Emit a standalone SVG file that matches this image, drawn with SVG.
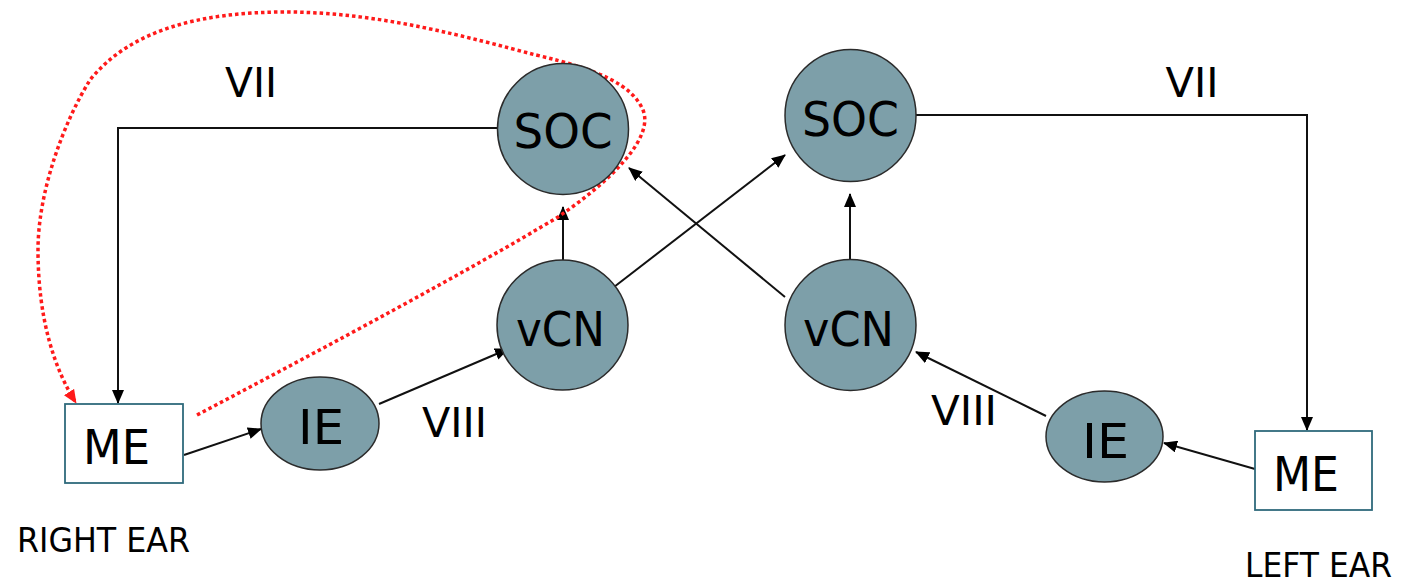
<svg xmlns="http://www.w3.org/2000/svg" width="1402" height="586" viewBox="0 0 1402 586">
<style>
.node{fill:#7d9fa9;stroke:#2b2b2b;stroke-width:1.5}
.box{fill:#fff;stroke:#2f6a7c;stroke-width:1.8}
.t{font-family:"DejaVu Sans","Liberation Sans",sans-serif;fill:#000;text-anchor:middle}
.big{font-size:48px}
.lab{font-size:40px}
.ear{font-size:33px}
.c{fill:none;stroke:#111;stroke-width:2}
.red{fill:none;stroke:#ff1a1a;stroke-width:3.5;stroke-dasharray:3.5 3}
</style>
<defs>
<marker id="ah" markerUnits="userSpaceOnUse" markerWidth="14" markerHeight="12" refX="13" refY="6" orient="auto">
<path d="M0,0 L14,6 L0,12 Z" fill="#000"/>
</marker>
<marker id="ahr" markerUnits="userSpaceOnUse" markerWidth="14" markerHeight="12" refX="13" refY="6" orient="auto">
<path d="M0,0 L14,6 L0,12 Z" fill="#ff1a1a"/>
</marker>
</defs>
<g id="connectors">
<polyline class="c" points="497,128 118,128 118,403" marker-end="url(#ah)"/>
<polyline class="c" points="916,115 1307,115 1307,430" marker-end="url(#ah)"/>
<line class="c" x1="184" y1="455" x2="261" y2="429" marker-end="url(#ah)"/>
<line class="c" x1="379" y1="404" x2="508" y2="349" marker-end="url(#ah)"/>
<line class="c" x1="563" y1="260" x2="563" y2="207" marker-end="url(#ah)"/>
<line class="c" x1="614" y1="287" x2="785" y2="155" marker-end="url(#ah)"/>
<line class="c" x1="785" y1="297" x2="629" y2="168" marker-end="url(#ah)"/>
<line class="c" x1="850" y1="260" x2="850" y2="194" marker-end="url(#ah)"/>
<line class="c" x1="1255" y1="469" x2="1164" y2="443" marker-end="url(#ah)"/>
<line class="c" x1="1046" y1="416" x2="916" y2="352" marker-end="url(#ah)"/>
<path class="red" d="M197,415 C330,345 470,270 558,217 C605,185 655,140 643,110 C632,85 600,70 536,55 C470,38 380,12 286,12 C200,12 130,30 90,80 C65,120 38,190 38,250 C38,320 55,370 76,403" marker-end="url(#ahr)"/>
</g>
<g id="soc-left"><ellipse class="node" cx="563" cy="129" rx="65.5" ry="65.5"/><text class="t big" x="563" y="148" textLength="99" lengthAdjust="spacingAndGlyphs">SOC</text></g>
<g id="soc-right"><ellipse class="node" cx="850.5" cy="115.5" rx="65.5" ry="66"/><text class="t big" x="850.5" y="136" textLength="97" lengthAdjust="spacingAndGlyphs">SOC</text></g>
<g id="vcn-left"><ellipse class="node" cx="562.5" cy="325" rx="65.5" ry="65"/><text class="t big" x="560.5" y="346" textLength="89" lengthAdjust="spacingAndGlyphs">vCN</text></g>
<g id="vcn-right"><ellipse class="node" cx="850.5" cy="325" rx="65.5" ry="65.5"/><text class="t big" x="848.5" y="346" textLength="91" lengthAdjust="spacingAndGlyphs">vCN</text></g>
<g id="ie-left"><ellipse class="node" cx="320" cy="423.5" rx="59" ry="46.5"/><text class="t big" x="321" y="444" textLength="46" lengthAdjust="spacingAndGlyphs">IE</text></g>
<g id="ie-right"><ellipse class="node" cx="1104.5" cy="436.5" rx="58.5" ry="45.5"/><text class="t big" x="1105.5" y="458" textLength="47" lengthAdjust="spacingAndGlyphs">IE</text></g>
<g id="me-left"><rect class="box" x="65" y="404" width="118" height="79"/><text class="t big" x="116.5" y="464" textLength="67" lengthAdjust="spacingAndGlyphs">ME</text></g>
<g id="me-right"><rect class="box" x="1255" y="431" width="117" height="79"/><text class="t big" x="1306" y="491" textLength="66" lengthAdjust="spacingAndGlyphs">ME</text></g>
<g id="labels">
<text class="t lab" x="251" y="97" textLength="52" lengthAdjust="spacingAndGlyphs">VII</text>
<text class="t lab" x="1192" y="97" textLength="53" lengthAdjust="spacingAndGlyphs">VII</text>
<text class="t lab" x="454.5" y="437" textLength="65" lengthAdjust="spacingAndGlyphs">VIII</text>
<text class="t lab" x="964" y="425" textLength="66" lengthAdjust="spacingAndGlyphs">VIII</text>
<text class="t ear" x="103.5" y="552" textLength="173" lengthAdjust="spacingAndGlyphs">RIGHT EAR</text>
<text class="t ear" x="1318.5" y="577" textLength="147" lengthAdjust="spacingAndGlyphs">LEFT EAR</text>
</g>
</svg>
